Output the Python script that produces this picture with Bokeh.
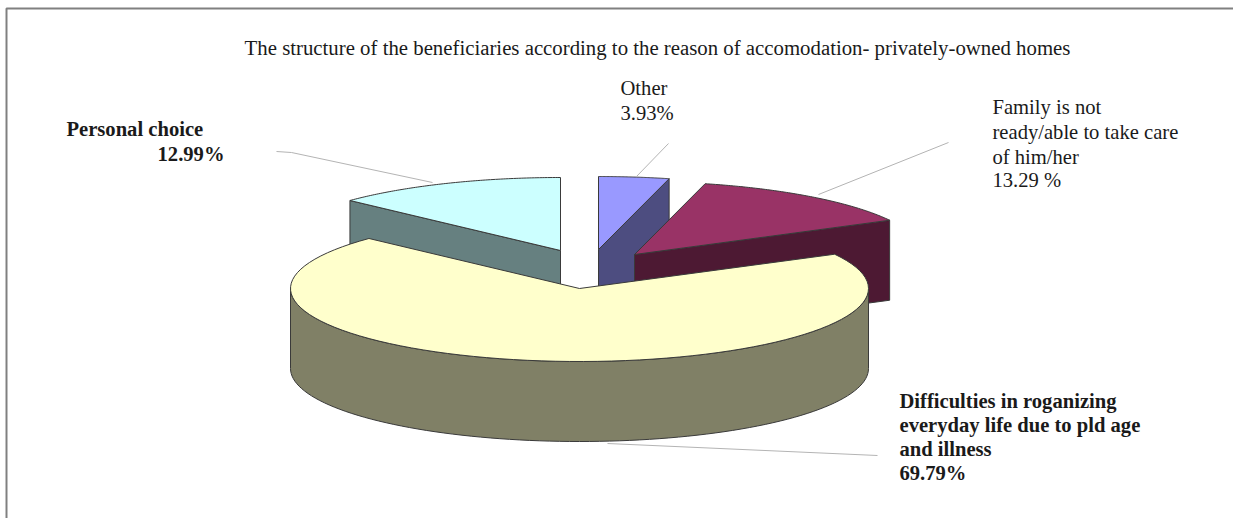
import math
from bokeh.core.properties import value
from bokeh.embed import file_html
from bokeh.models import ColumnDataSource, Range1d
from bokeh.plotting import figure
from bokeh.resources import INLINE

# Shares of beneficiaries, clockwise from twelve o'clock
categories = ["Other", "Family", "Difficulties", "Personal"]
shares = [3.93, 13.29, 69.79, 12.99]

title_text = "The structure of the beneficiaries according to the reason of accomodation- privately-owned homes"
label_other = ["Other", "3.93%"]
label_family = ["Family is not", "ready/able to take care", "of him/her", "13.29 %"]
label_personal = ["Personal choice", "12.99%"]
label_difficulties = ["Difficulties in roganizing", "everyday life due to pld age", "and illness", "69.79%"]

# Pie layout, in page pixels (y grows downward)
RX, RY, DEPTH = 289, 73, 80
apex = {"Other": (598, 249), "Family": (634, 254), "Difficulties": (579, 288), "Personal": (560, 250)}
top_colors = {"Other": "#9999FF", "Family": "#993366", "Difficulties": "#FFFFCC", "Personal": "#CCFFFF"}
side_colors = {"Other": "#4D4D80", "Family": "#4D1933", "Difficulties": "#808066", "Personal": "#668080"}
EDGE = "#3a3a3a"
FONT = value("Liberation Serif")


def rim(cat, t0, t1, n=90):
    ax, ay = apex[cat]
    ts = [t0 + (t1 - t0) * i / n for i in range(n + 1)]
    return ([ax + RX * math.sin(t) for t in ts], [ay - RY * math.cos(t) for t in ts])


# Slice spans derived from the shares
spans = {}
acc = 0.0
for cat, share in zip(categories, shares):
    a0 = acc / sum(shares) * 2 * math.pi
    acc += share
    spans[cat] = (a0, acc / sum(shares) * 2 * math.pi)

p = figure(width=1233, height=518, output_backend="svg", toolbar_location=None,
           x_range=Range1d(0, 1233), y_range=Range1d(518, 0),
           min_border=0, outline_line_color=None, background_fill_color="white")
p.axis.visible = False
p.grid.visible = False


def poly(xs, ys, fill):
    p.patch(xs, ys, fill_color=fill, line_color=EDGE, line_width=1)


def radial_wall(cat, t):
    ax, ay = apex[cat]
    ex, ey = rim(cat, t, t, 1)
    poly([ax, ex[0], ex[0], ax], [ay, ey[0], ey[0] + DEPTH, ay + DEPTH], side_colors[cat])


def top_face(cat):
    ax, ay = apex[cat]
    xs, ys = rim(cat, *spans[cat])
    poly([ax] + xs, [ay] + ys, top_colors[cat])


# Painted back to front so the large slice overlaps the others
radial_wall("Other", spans["Other"][1])
top_face("Other")
radial_wall("Personal", spans["Personal"][0])
top_face("Personal")
radial_wall("Family", spans["Family"][1])
top_face("Family")

xs, ys = rim("Difficulties", math.pi / 2, 3 * math.pi / 2)
poly(xs + xs[::-1], ys + [y + DEPTH for y in ys[::-1]], side_colors["Difficulties"])
top_face("Difficulties")

# Leader lines
leader_x = [[276, 291, 432], [668, 636], [948, 818], [607, 877]]
leader_y = [[151, 152, 182], [143, 176], [142, 194], [443, 455]]
p.multi_line(leader_x, leader_y, line_color="#b4b4b4", line_width=1)

# Frame along the top and left of the page
p.line([6, 6, 1233], [518, 8, 8], line_color="#808080", line_width=2)


def text_block(lines, x, ys_, align="left", bold=False, size="20.6px"):
    src = ColumnDataSource(dict(x=[x] * len(lines), y=ys_, t=lines))
    p.text("x", "y", text="t", source=src, text_font=FONT, text_font_size=size,
           text_align=align, text_baseline="middle", text_color="#1a1a1a",
           text_font_style="bold" if bold else "normal")


text_block([title_text], 657, [46.5], align="center", size="20.8px")
text_block(label_other, 620, [87, 112])
text_block(label_family, 992, [106, 131, 156, 179])
text_block(label_personal[:1], 66, [128], bold=True)
text_block(label_personal[1:], 224, [153], align="right", bold=True)
text_block(label_difficulties, 899, [400, 424, 448, 472], bold=True)

open("out.html", "w").write(file_html(p, INLINE))
